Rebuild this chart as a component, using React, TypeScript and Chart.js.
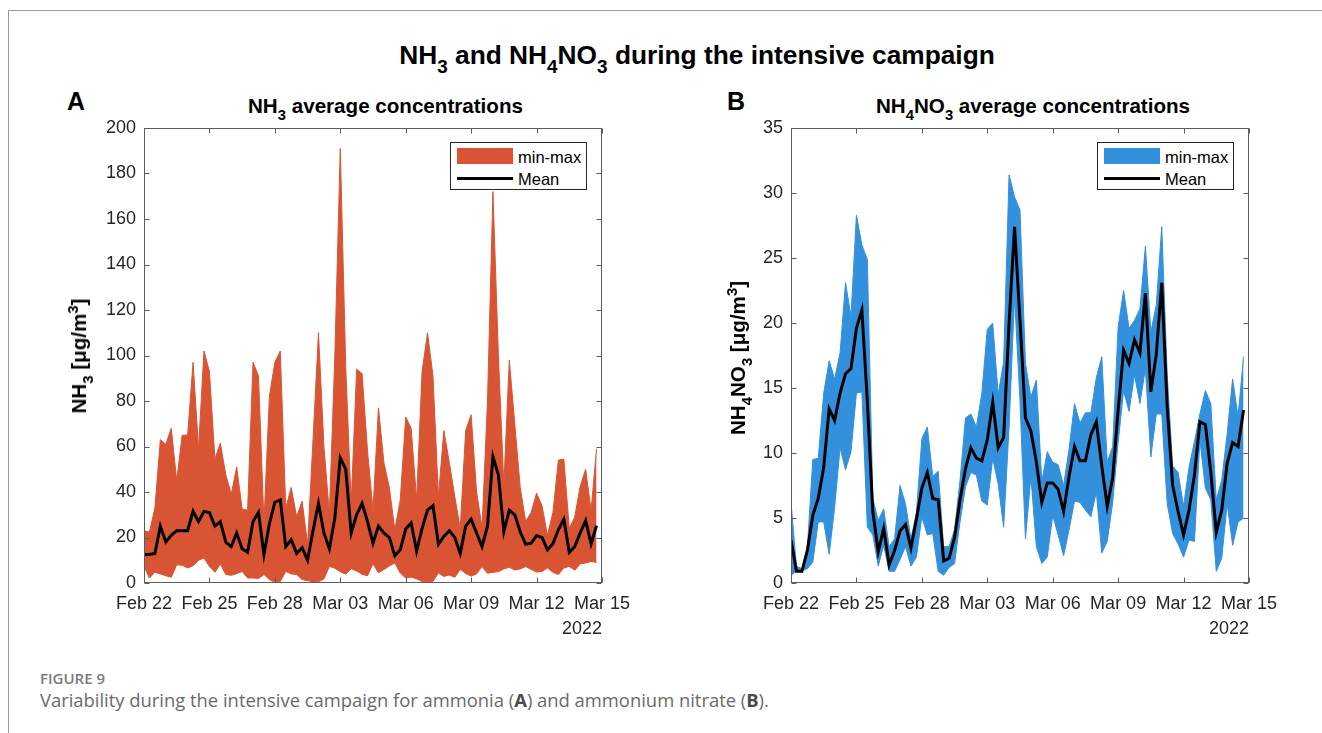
import React, { useEffect, useRef } from "react";
import { Chart, registerables } from "chart.js";

Chart.register(...registerables);

// ---------- data: 6-hourly samples from Feb 22 00:00 ----------
const xTickLabels = ["Feb 22", "Feb 25", "Feb 28", "Mar 03", "Mar 06", "Mar 09", "Mar 12", "Mar 15"];
const yearLabel = "2022";
const hoursPerSample = 6;

// NH3 [µg/m3]
const nh3Mean = [
  12.5, 12.5, 13, 25, 18, 21, 23, 23, 23, 31.5,
  27, 31.5, 31, 25, 27, 18, 16, 22, 15, 13.5,
  27, 31, 12.5, 26, 35.5, 36.5, 16, 19, 13, 15.5,
  10, 23, 35, 22, 15, 28.5, 55, 50, 22, 30,
  35, 27, 17.5, 25, 22, 20, 12, 14.6, 23.7, 26.4,
  14, 24, 32, 34, 17, 20.5, 23, 20, 13, 25,
  28, 22, 16, 25, 55.5, 47.5, 22.6, 32, 30, 22.5,
  17, 17.5, 20.8, 20, 14.6, 17.3, 23.4, 28, 13.5, 16,
  22, 27.4, 17.3, 25.2,
];
const nh3Max = [
  23, 22.4, 33, 63, 61, 68, 45, 65, 65, 97,
  59, 102, 93, 54.5, 61.5, 47.6, 39, 51, 32.5, 32,
  97, 91, 26.4, 82, 97, 102, 33, 42, 29, 36,
  17, 63, 110, 60, 30.6, 100, 191, 95, 35, 94,
  92, 58, 32, 77, 53, 42, 23.4, 36.6, 73, 68,
  36.6, 93, 110, 91, 38, 67, 53, 38, 24, 67,
  74, 40, 24.5, 80, 172, 100, 43, 98, 70, 42,
  27, 31, 39.5, 34, 21, 31, 54, 54.5, 24, 29,
  42.5, 50, 32, 59,
];
const nh3Min = [
  7.3, 2.2, 4.7, 4, 3.2, 2.5, 8, 7.8, 6.6, 7.6,
  10, 11, 7.3, 4.7, 8.4, 3.7, 3.4, 4.1, 5.1, 2.2,
  2.2, 2, 3.7, 1.5, 0.3, 0.7, 5.1, 4, 3.7, 1.5,
  1, 0.6, 0.5, 1.8, 7.3, 6.5, 5, 3.9, 6.3, 5.3,
  3.8, 3.2, 8.5, 4.5, 5.9, 7.5, 8.8, 4.4, 2.2, 2.6,
  1.8, 0.7, 0.7, 0.7, 4.4, 2.9, 3.5, 2.5, 6, 4.2,
  3, 4, 7.2, 4.3, 4.7, 5, 6.2, 6.9, 5.7, 6.2,
  7.2, 6, 4.8, 5.1, 6.6, 4.7, 3.7, 6.6, 7.3, 5.6,
  8.4, 8.8, 9.5, 9,
];

// NH4NO3 [µg/m3]
const nitMean = [
  3.3, 0.9, 0.9, 2.5, 5.2, 6.5, 8.9, 13.4, 12.5, 14.6,
  16.1, 16.5, 19.6, 21, 14, 5.5, 2.4, 4.2, 1.4, 2.5,
  4.0, 4.5, 2.7, 4.9, 7.3, 8.5, 6.5, 6.4, 1.7, 1.9,
  3.5, 6.4, 8.8, 10.4, 9.6, 9.4, 11, 13.9, 10.4, 11.2,
  20, 27.4, 20.2, 12.7, 11.7, 9.3, 6.2, 7.7, 7.7, 7.2,
  5.5, 8.2, 10.5, 9.4, 9.4, 11.4, 12.4, 9, 5.9, 8.1,
  13.3, 17.9, 16.9, 18.7, 17.7, 22.3, 14.7, 17.6, 23.1, 13.5,
  7.5, 5.5, 3.7, 5.6, 8.3, 12.4, 12.2, 8.5, 3.9, 5.6,
  9.2, 10.8, 10.5, 13.3,
];
const nitMax = [
  6.2, 1.3, 1.1, 2.7, 9.5, 9.6, 14.6, 17.1, 15.7, 17.7,
  23.1, 20.5, 28.3, 26, 24.9, 6.5, 4.8, 5.7, 2.8, 3.4,
  7.5, 6.1, 3.4, 5.4, 11.1, 12, 8.2, 8.6, 2.8, 2.8,
  4.1, 7.9, 12.7, 13, 12, 14.6, 19.5, 20, 14.5, 17,
  31.4, 29.7, 28.7, 16.9, 14.3, 15.6, 7.8, 10.1, 9.3, 9.1,
  7.5, 10.3, 13.8, 12.3, 13.1, 13.1, 15.8, 17.4, 9.3, 10.5,
  19.7, 22.5, 19.6, 20.2, 21.1, 25.9, 19.3, 21.4, 27.4, 16,
  9, 8.5, 5.9, 8.9, 10.9, 13, 14.8, 13.8, 6.4, 7.9,
  11.5, 15.7, 12.8, 17.4,
];
const nitMin = [
  0.6, 0.9, 0.95, 1.1, 1.6, 4.7, 4.7, 2.2, 5.8, 10.4,
  8.7, 10.1, 14.6, 14.7, 4.3, 3.7, 1.3, 2.9, 0.9, 0.9,
  1.8, 2.8, 1.3, 2.0, 5.1, 3.7, 3.8, 0.9, 0.6, 1.2,
  1.5, 4.7, 7.4, 8.5, 8.3, 6.3, 6.0, 9.6, 7.6, 4.3,
  12, 22, 14, 3.4, 8.2, 2.8, 1.5, 2.0, 5.2, 3.7,
  2.1, 4.1, 6.3, 6.2, 5.6, 5.1, 7, 2.3, 3.2, 6.2,
  10.8, 14.8, 13.2, 16, 13.8, 16.5, 9.7, 13, 13, 6.1,
  3.8, 3, 2.0, 3.3, 3.2, 11, 7.3, 6.4, 0.9, 1.9,
  6.1, 2.9, 4.7, 5.0,
];

// ---------- styling ----------
const FONT = '"Liberation Sans", Arial, Helvetica, sans-serif';
const CAPTION_FONT = '"Open Sans", "Noto Sans", sans-serif';
const TEXT = "#262626";
const NH3_FILL = "#D95433";
const NIT_FILL = "#3390DC";

// canvas geometry (page coordinates of each panel canvas)
const CANVAS_TOP = 115;
const CANVAS_W = 600;
const CANVAS_H = 540;

const toPoints = (vals: number[]) =>
  vals.map((v, i) => ({ x: (i * hoursPerSample) / 24, y: v }));

// Box around the plot area with inward tick marks on all four sides
const axesBox = {
  id: "axesBox",
  afterDraw(chart: any) {
    const { ctx, chartArea: a, scales } = chart;
    const L = 5;
    const l = Math.round(a.left) + 0.5;
    const r = Math.round(a.right) - 0.5;
    const t = Math.round(a.top) + 0.5;
    const b = Math.round(a.bottom) - 0.5;
    ctx.save();
    ctx.strokeStyle = "#5c5c5c";
    ctx.lineWidth = 1;
    ctx.strokeRect(l, t, r - l, b - t);
    ctx.beginPath();
    scales.x.ticks.forEach((tk: any) => {
      const px = Math.round(scales.x.getPixelForValue(tk.value)) + 0.5;
      ctx.moveTo(px, b);
      ctx.lineTo(px, b - L);
      ctx.moveTo(px, t);
      ctx.lineTo(px, t + L);
    });
    scales.y.ticks.forEach((tk: any) => {
      const py = Math.round(scales.y.getPixelForValue(tk.value)) + 0.5;
      ctx.moveTo(l, py);
      ctx.lineTo(l + L, py);
      ctx.moveTo(r, py);
      ctx.lineTo(r - L, py);
    });
    ctx.stroke();
    ctx.restore();
  },
};

type PanelProps = {
  left: number;
  mean: number[];
  max: number[];
  min: number[];
  color: string;
  yMax: number;
  yStep: number;
};

function Panel({ left, mean, max, min, color, yMax, yStep }: PanelProps) {
  const ref = useRef<HTMLCanvasElement | null>(null);

  useEffect(() => {
    if (!ref.current) return;
    const tickFont = { family: FONT, size: 18 };
    const chart = new Chart(ref.current, {
      type: "line",
      data: {
        datasets: [
          {
            label: "Mean",
            data: toPoints(mean),
            borderColor: "#000000",
            borderWidth: 3,
            pointRadius: 0,
            fill: false,
            tension: 0,
            order: 0,
          },
          {
            label: "max",
            data: toPoints(max),
            borderColor: color,
            backgroundColor: color,
            borderWidth: 1,
            pointRadius: 0,
            fill: "+1",
            tension: 0,
            order: 1,
          },
          {
            label: "min",
            data: toPoints(min),
            borderColor: color,
            backgroundColor: color,
            borderWidth: 1,
            pointRadius: 0,
            fill: false,
            tension: 0,
            order: 1,
          },
        ],
      },
      options: {
        responsive: false,
        animation: false,
        devicePixelRatio: 1,
        layout: { padding: { top: 13, right: 37, left: 0, bottom: 0 } },
        plugins: {
          legend: { display: false },
          tooltip: { enabled: false },
          title: { display: false },
        },
        scales: {
          x: {
            type: "linear",
            min: 0,
            max: 21,
            ticks: {
              stepSize: 3,
              autoSkip: false,
              maxRotation: 0,
              padding: 10,
              color: TEXT,
              font: tickFont,
              callback: (v: any) => xTickLabels[Math.round(Number(v) / 3)],
            },
            grid: { display: false, drawTicks: false },
            border: { display: false },
            title: {
              display: true,
              text: yearLabel,
              align: "end",
              color: TEXT,
              font: tickFont,
              padding: { top: 0, bottom: 15 },
            },
            afterFit: (s: any) => {
              s.height = 72;
            },
          },
          y: {
            min: 0,
            max: yMax,
            ticks: {
              stepSize: yStep,
              padding: 8,
              color: TEXT,
              font: tickFont,
            },
            grid: { display: false, drawTicks: false },
            border: { display: false },
            afterFit: (s: any) => {
              s.width = 104;
              s.paddingTop = 0;
              s.paddingBottom = 0;
            },
          },
        },
      } as any,
      plugins: [axesBox],
    });
    return () => chart.destroy();
  }, [mean, max, min, color, yMax, yStep]);

  return (
    <canvas
      ref={ref}
      width={CANVAS_W}
      height={CANVAS_H}
      style={{ position: "absolute", left, top: CANVAS_TOP, width: CANVAS_W, height: CANVAS_H }}
    />
  );
}

const sub: React.CSSProperties = { fontSize: "0.72em", verticalAlign: "-0.45em", lineHeight: 0 };
const sup: React.CSSProperties = { fontSize: "0.72em", verticalAlign: "0.55em", lineHeight: 0 };

function Legend({ left, color }: { left: number; color: string }) {
  const txt: React.CSSProperties = {
    position: "absolute",
    left: 67,
    fontSize: 16.5,
    lineHeight: "16.5px",
    color: "#000",
    whiteSpace: "nowrap",
  };
  return (
    <div
      style={{
        position: "absolute",
        left,
        top: 142,
        width: 137,
        height: 48,
        border: "1px solid #262626",
        background: "#fff",
        boxSizing: "border-box",
      }}
    >
      <div style={{ position: "absolute", left: 6, top: 5, width: 56, height: 16, background: color }} />
      <div style={{ ...txt, top: 6 }}>min-max</div>
      <div style={{ position: "absolute", left: 6, top: 34, width: 56, height: 3, background: "#000" }} />
      <div style={{ ...txt, top: 28 }}>Mean</div>
    </div>
  );
}

export default function App() {
  const abs: React.CSSProperties = { position: "absolute", whiteSpace: "nowrap", margin: 0 };
  const axisTitle: React.CSSProperties = {
    ...abs,
    transform: "translate(-50%, -50%) rotate(-90deg)",
    fontSize: 20.6,
    lineHeight: "20px",
    fontWeight: 700,
  };
  return (
    <div
      style={{
        position: "absolute",
        left: 0,
        top: 0,
        width: 1322,
        height: 733,
        background: "#fff",
        overflow: "hidden",
        fontFamily: FONT,
        color: "#000",
      }}
    >
      {/* page frame */}
      <div style={{ position: "absolute", left: 8, top: 10, width: 1314, height: 1, background: "#9a9a9a" }} />
      <div style={{ position: "absolute", left: 8, top: 10, width: 1, height: 723, background: "#9a9a9a" }} />

      {/* figure title */}
      <div
        style={{
          ...abs,
          left: 697,
          top: 42,
          transform: "translateX(-50%)",
          fontSize: 26.3,
          lineHeight: "26px",
          fontWeight: 700,
        }}
      >
        NH<span style={sub}>3</span> and NH<span style={sub}>4</span>NO<span style={sub}>3</span> during the
        intensive campaign
      </div>

      {/* panel letters */}
      <div style={{ ...abs, left: 67, top: 89, fontSize: 25, lineHeight: "25px", fontWeight: 700 }}>A</div>
      <div style={{ ...abs, left: 727, top: 89, fontSize: 25, lineHeight: "25px", fontWeight: 700 }}>B</div>

      {/* panel titles */}
      <div style={{ ...abs, left: 248, top: 96, fontSize: 20.6, lineHeight: "20px", fontWeight: 700 }}>
        NH<span style={sub}>3</span> average concentrations
      </div>
      <div style={{ ...abs, left: 876, top: 96, fontSize: 20.6, lineHeight: "20px", fontWeight: 700 }}>
        NH<span style={sub}>4</span>NO<span style={sub}>3</span> average concentrations
      </div>

      <Panel left={40} mean={nh3Mean} max={nh3Max} min={nh3Min} color={NH3_FILL} yMax={200} yStep={20} />
      <Panel left={687} mean={nitMean} max={nitMax} min={nitMin} color={NIT_FILL} yMax={35} yStep={5} />

      {/* y-axis titles */}
      <div style={{ ...axisTitle, left: 79, top: 356 }}>
        NH<span style={sub}>3</span> [μg/m<span style={sup}>3</span>]
      </div>
      <div style={{ ...axisTitle, left: 738, top: 358 }}>
        NH<span style={sub}>4</span>NO<span style={sub}>3</span> [μg/m<span style={sup}>3</span>]
      </div>

      <Legend left={450} color={NH3_FILL} />
      <Legend left={1097} color={NIT_FILL} />

      {/* caption */}
      <div
        style={{
          ...abs,
          left: 40,
          top: 668,
          fontFamily: CAPTION_FONT,
          fontSize: 15,
          lineHeight: "20px",
          fontWeight: 600,
          color: "#7a7a7a",
        }}
      >
        FIGURE 9
      </div>
      <div
        style={{
          ...abs,
          left: 40,
          top: 688,
          fontFamily: CAPTION_FONT,
          fontSize: 18.4,
          lineHeight: "24px",
          color: "#6a6a6a",
        }}
      >
        Variability during the intensive campaign for ammonia (<b style={{ color: "#4a4a4a" }}>A</b>) and ammonium
        nitrate (<b style={{ color: "#4a4a4a" }}>B</b>).
      </div>
    </div>
  );
}
